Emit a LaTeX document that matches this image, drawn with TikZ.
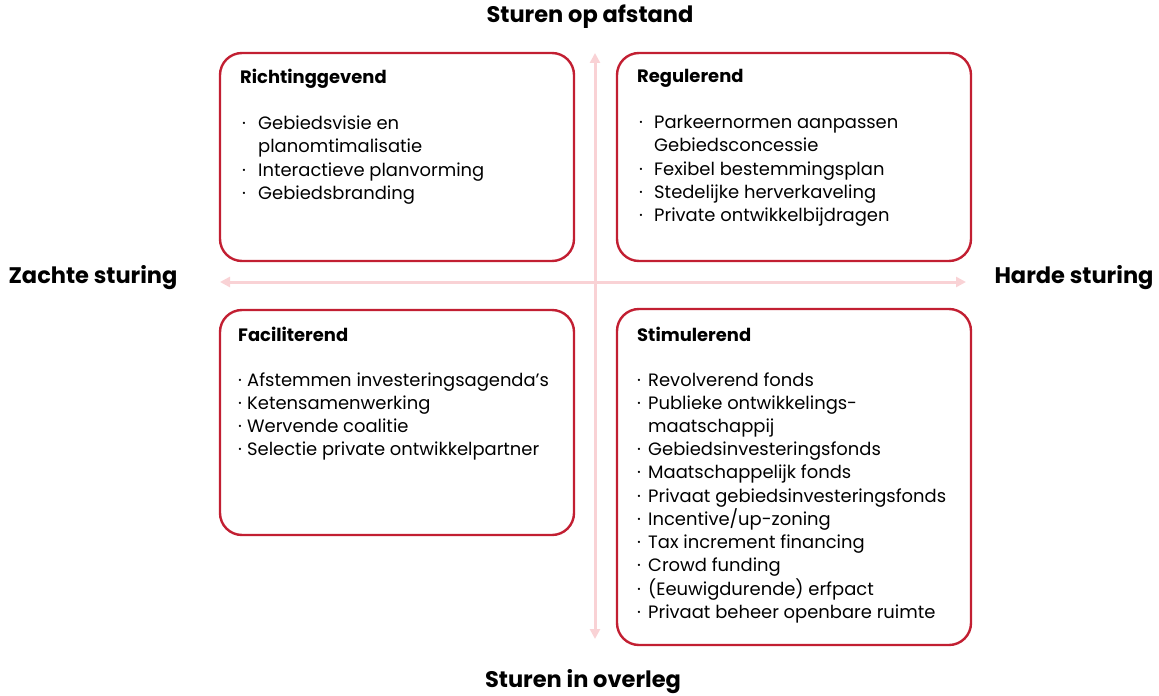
\documentclass[tikz,border=0pt]{standalone}
\usepackage{fontspec}
\setmainfont{Poppins}
\usetikzlibrary{arrows.meta}
\definecolor{boxred}{HTML}{C21F32}
\definecolor{axispink}{HTML}{F9D2D5}
\newcommand{\qb}[2]{\hspace*{#1bp}\makebox[#2bp][l]{·}}
\begin{document}
\begin{tikzpicture}[x=1bp,y=-1bp,
  quad/.style={draw=boxred, line width=2.4bp, rounded corners=22bp, minimum width=354bp, anchor=north west, inner sep=0, outer sep=0},
  axisline/.style={draw=axispink, line width=3bp, {Triangle[width=10bp,length=10bp]}-{Triangle[width=10bp,length=10bp]}},
  txt/.style={anchor=north west, inner sep=0, align=left, font=\fontsize{18}{23.2}\selectfont},
  head/.style={inner sep=0, font=\fontsize{22.6}{26}\selectfont\bfseries}
]
\useasboundingbox (0,0) rectangle (1159,696);
% boxes
\node[quad, minimum height=208bp] (rg) at (220,53) {};
\node[quad, minimum height=208bp] (re) at (617,53) {};
\node[quad, minimum height=225bp] (fa) at (220,310) {};
\node[quad, minimum height=336bp] (st) at (617,309) {};
% axes
\coordinate (top) at (595,53);
\coordinate (bot) at (595,639);
\coordinate (lft) at (220,282);
\coordinate (rgt) at (966,282);
\draw[axisline] (top) -- (bot);
\draw[axisline] (lft) -- (rgt);
% axis labels
\node[head] (hTop) at (590,17) {Sturen op afstand};
\node[head] (hBot) at (583,682) {Sturen in overleg};
\node[head] (hL) at (93,278) {Zachte sturing};
\node[head] (hR) at (1074,278) {Harde sturing};
% texts
\node[txt] (rgt) at (240,69) {\textbf{Richtinggevend}\\[23.2bp]
\qb{2}{16}Gebiedsvisie en\\
\hspace*{18bp}planomtimalisatie\\
\qb{2}{16}Interactieve planvorming\\
\qb{2}{16}Gebiedsbranding};
\node[txt] (ret) at (637,69) {\textbf{Regulerend}\\[23.2bp]
\qb{2}{15}Parkeernormen aanpassen\\
\hspace*{17bp}Gebiedsconcessie\\
\qb{2}{15}Fexibel bestemmingsplan\\
\qb{2}{15}Stedelijke herverkaveling\\
\qb{2}{15}Private ontwikkelbijdragen};
\node[txt] (fat) at (238,327) {\textbf{Faciliterend}\\[21.4bp]
\qb{0}{9}Afstemmen investeringsagenda’s\\
\qb{0}{9}Ketensamenwerking\\
\qb{0}{9}Wervende coalitie\\
\qb{0}{9}Selectie private ontwikkelpartner};
\node[txt, font=\fontsize{18}{23.3}\selectfont] (stt) at (637,327) {\textbf{Stimulerend}\\[21.3bp]
\qb{0}{11}Revolverend fonds\\
\qb{0}{11}Publieke ontwikkelings-\\
\hspace*{11bp}maatschappij\\
\qb{0}{11}Gebiedsinvesteringsfonds\\
\qb{0}{11}Maatschappelijk fonds\\
\qb{0}{11}Privaat gebiedsinvesteringsfonds\\
\qb{0}{11}Incentive/up-zoning\\
\qb{0}{11}Tax increment financing\\
\qb{0}{11}Crowd funding\\
\qb{0}{11}(Eeuwigdurende) erfpact\\
\qb{0}{11}Privaat beheer openbare ruimte};
\end{tikzpicture}
\end{document}
